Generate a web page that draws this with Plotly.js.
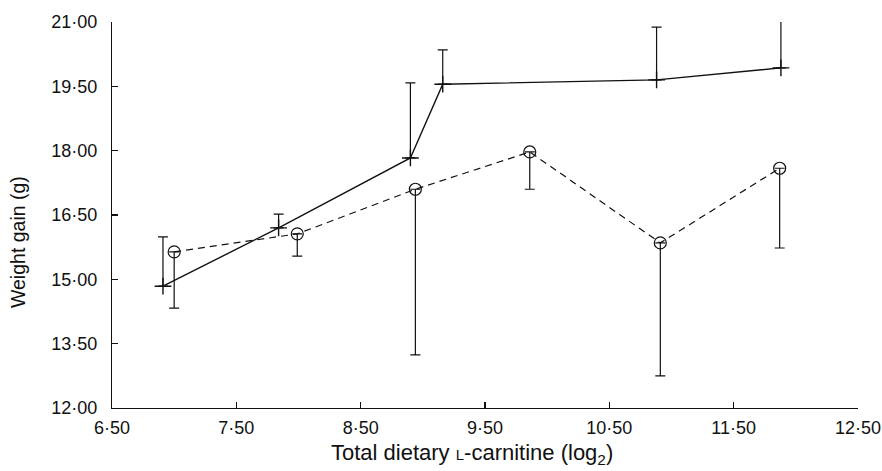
<!DOCTYPE html>
<html>
<head>
<meta charset="utf-8">
<script src="https://cdn.plot.ly/plotly-3.0.1.min.js"></script>
<style>html,body{margin:0;padding:0;background:#fff;}#chart{width:882px;height:471px;}</style>
</head>
<body>
<div id="chart"></div>
<script>
// Solid line series (+ markers), upward error bars
const plusX = [6.91, 7.84, 8.90, 9.16, 10.88, 11.88];
const plusY = [14.84, 16.20, 17.83, 19.55, 19.65, 19.93];
const plusErrUp = [1.15, 0.32, 1.75, 0.80, 1.23, 1.40];

// Dashed line series (open circles), downward error bars
const circX = [7.00, 7.99, 8.94, 9.86, 10.91, 11.87];
const circY = [15.64, 16.06, 17.10, 17.97, 15.85, 17.59];
const circErrDown = [1.31, 0.52, 3.86, 0.87, 3.10, 1.86];

// Axis ticks
const xTickVals = [6.5, 7.5, 8.5, 9.5, 10.5, 11.5, 12.5];
const xTickText = ["6·50", "7·50", "8·50", "9·50", "10·50", "11·50", "12·50"];
const yTickVals = [12, 13.5, 15, 16.5, 18, 19.5, 21];
const yTickText = ["12·00", "13·50", "15·00", "16·50", "18·00", "19·50", "21·00"];

const xTitle = 'Total dietary <span style="font-size:15px">L</span>-carnitine (log<sub>2</sub>)';
const yTitle = 'Weight gain (g)';

const zeros = plusX.map(() => 0);

const traces = [
  {
    x: plusX, y: plusY, type: 'scatter', mode: 'lines+markers',
    line: {color: '#111', width: 1.4},
    marker: {symbol: 'cross-thin-open', size: 12, color: '#111', line: {color: '#111', width: 1.4}},
    error_y: {type: 'data', symmetric: false, array: plusErrUp, arrayminus: zeros,
              color: '#111', thickness: 1.2, width: 5},
    showlegend: false
  },
  {
    x: circX, y: circY, type: 'scatter', mode: 'lines+markers',
    line: {color: '#111', width: 1.2, dash: '7px,5px'},
    marker: {symbol: 'circle-open', size: 12, color: '#111', line: {color: '#111', width: 1.2}},
    error_y: {type: 'data', symmetric: false, array: zeros, arrayminus: circErrDown,
              color: '#111', thickness: 1.2, width: 5},
    showlegend: false
  }
];

const font = {family: '"Liberation Sans", Arial, sans-serif', color: '#111'};

const layout = {
  width: 882, height: 471,
  margin: {l: 112, r: 24, t: 22, b: 63},
  paper_bgcolor: '#fff', plot_bgcolor: '#fff',
  font: Object.assign({size: 18}, font),
  xaxis: {
    range: [6.5, 12.5], tickvals: xTickVals, ticktext: xTickText,
    showline: true, linecolor: '#111', linewidth: 1.2, mirror: false,
    ticks: 'inside', ticklen: 6, tickcolor: '#111', tickwidth: 1.2,
    showgrid: false, zeroline: false, automargin: false,
    ticklabeloverflow: 'allow',
    tickfont: Object.assign({size: 18}, font),
    ticklabelstandoff: 3
  },
  yaxis: {
    range: [12, 21], tickvals: yTickVals, ticktext: yTickText,
    showline: true, linecolor: '#111', linewidth: 1.2, mirror: false,
    ticks: 'inside', ticklen: 6, tickcolor: '#111', tickwidth: 1.2,
    showgrid: false, zeroline: false, automargin: false,
    tickfont: Object.assign({size: 18}, font),
    ticklabelstandoff: 10
  },
  annotations: [
    {text: xTitle, xref: 'paper', yref: 'paper', x: 0.483, y: -0.118,
     xanchor: 'center', yanchor: 'middle', showarrow: false,
     font: Object.assign({size: 22}, font)},
    {text: yTitle, xref: 'paper', yref: 'paper', x: -0.126, y: 0.43,
     xanchor: 'center', yanchor: 'middle', showarrow: false, textangle: -90,
     font: Object.assign({size: 19.5}, font)}
  ]
};

Plotly.newPlot('chart', traces, layout, {displayModeBar: false, staticPlot: true});
</script>
</body>
</html>
